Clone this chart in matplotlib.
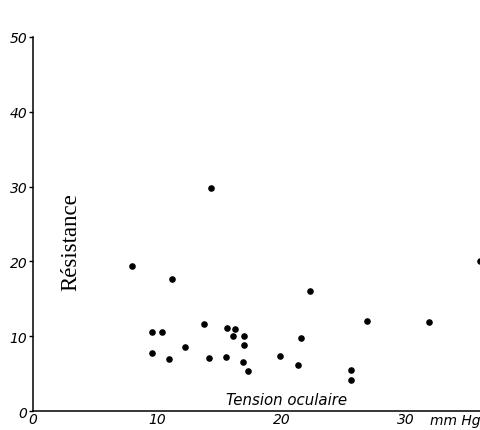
import matplotlib.pyplot as plt

# tension oculaire (mmHg) vs résistance
tension = [14.35, 7.96, 11.15, 22.3, 26.9, 13.8, 9.57, 10.4, 15.6, 16.3,
           16.1, 17.0, 17.0, 21.6, 9.57, 12.2, 10.97, 14.2, 15.5, 16.9,
           17.3, 19.9, 21.3, 25.6, 25.6, 31.9, 36.0]
resistance = [29.8, 19.4, 17.6, 16.0, 12.0, 11.6, 10.5, 10.5, 11.05, 11.0,
              10.0, 10.0, 8.8, 9.7, 7.8, 8.5, 6.9, 7.1, 7.2, 6.5,
              5.4, 7.3, 6.2, 5.5, 4.1, 11.9, 20.1]

x_ticks = [0, 10, 20, 30]
y_ticks = [0, 10, 20, 30, 40, 50]


def plot():
    fig = plt.figure(figsize=(4.8, 4.31), dpi=100)
    ax = fig.add_axes([0.069, 0.044, 0.931, 0.868])

    ax.scatter(tension, resistance, s=14, color="black", zorder=3)

    ax.set_xlim(0, 36)
    ax.set_ylim(0, 50)
    ax.spines["top"].set_visible(False)
    ax.spines["right"].set_visible(False)
    ax.spines["left"].set_linewidth(1.1)
    ax.spines["bottom"].set_linewidth(1.1)

    ax.set_xticks(x_ticks)
    ax.set_yticks(y_ticks)
    ax.set_xticklabels([str(t) for t in x_ticks], fontstyle="italic", fontsize=10)
    ax.set_yticklabels([str(t) for t in y_ticks], fontstyle="italic", fontsize=10)
    ax.tick_params(axis="x", length=0, pad=1)
    ax.tick_params(axis="y", length=3, width=1, pad=1)

    ax.text(32.0, -0.2, "mm Hg", fontstyle="italic", fontsize=10, va="top", ha="left")
    ax.text(20.4, 1.6, "Tension oculaire", fontstyle="italic", fontsize=10.8, ha="center", va="center")
    ax.text(3.05, 22.7, "Résistance", family="Liberation Serif", fontsize=16.5,
            rotation=90, ha="center", va="center")

    fig.savefig("out.png", dpi=100)


if __name__ == "__main__":
    plot()
